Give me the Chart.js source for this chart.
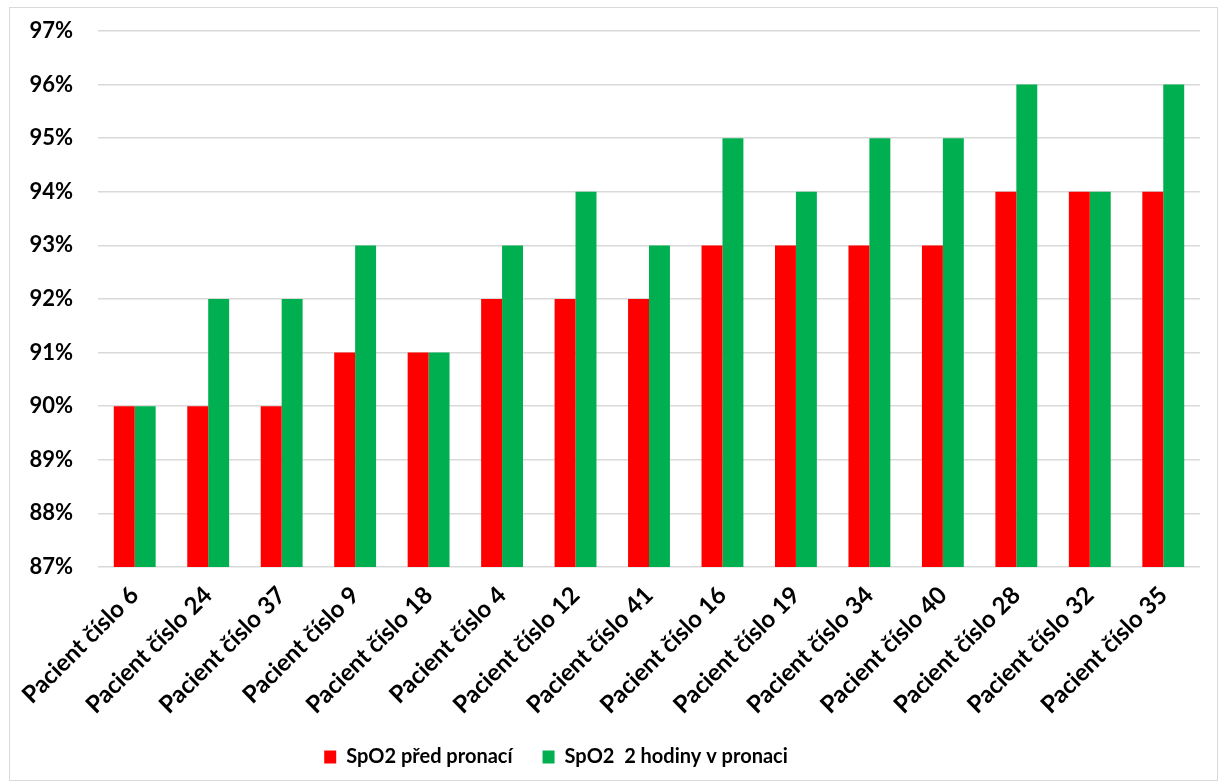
<!DOCTYPE html>
<html>
<head>
<meta charset="utf-8">
<script src="https://cdn.jsdelivr.net/npm/chart.js@4"></script>
<style>
  html, body { margin: 0; padding: 0; background: #fff; }
  body { width: 1224px; height: 782px; position: relative; overflow: hidden; }
  #frame {
    position: absolute; left: 9px; top: 7px; width: 1209px; height: 774px;
    border: 1px solid #d9d9d9; box-sizing: border-box; background: #fff;
  }
  #frame canvas { display: block; }
</style>
</head>
<body>
<div id="frame"><canvas id="c" width="1207" height="772"></canvas></div>
<script>
// Patients, in the order they are plotted
const patients = [
  'Pacient číslo 6', 'Pacient číslo 24', 'Pacient číslo 37', 'Pacient číslo 9',
  'Pacient číslo 18', 'Pacient číslo 4', 'Pacient číslo 12', 'Pacient číslo 41',
  'Pacient číslo 16', 'Pacient číslo 19', 'Pacient číslo 34', 'Pacient číslo 40',
  'Pacient číslo 28', 'Pacient číslo 32', 'Pacient číslo 35'
];

// SpO2 (%) before proning
const spo2Before = [90, 90, 90, 91, 91, 92, 92, 92, 93, 93, 93, 93, 94, 94, 94];
// SpO2 (%) after two hours in prone position
const spo2Prone = [90, 92, 92, 93, 91, 93, 94, 93, 95, 94, 95, 95, 96, 94, 96];

const seriesNames = ['SpO2 před pronací', 'SpO2  2 hodiny v pronaci'];

// y-axis range and step (percent)
const yMin = 87;
const yMax = 97;
const yStep = 1;

const FONT = 'Lato, "Open Sans", sans-serif';

// Nudge the bottom legend a little to the left
const legendShift = {
  id: 'legendShift',
  afterUpdate(chart) {
    const lg = chart.legend;
    if (!lg) return;
    const dx = -49;
    lg.left += dx; lg.right += dx;
    if (lg.legendHitBoxes) lg.legendHitBoxes.forEach(b => { b.left += dx; });
  }
};

new Chart(document.getElementById('c'), {
  type: 'bar',
  data: {
    labels: patients,
    datasets: [
      { label: seriesNames[0], data: spo2Before, backgroundColor: '#ff0000', borderWidth: 0 },
      { label: seriesNames[1], data: spo2Prone, backgroundColor: '#00b050', borderWidth: 0 }
    ]
  },
  options: {
    responsive: false,
    animation: false,
    events: [],
    layout: { padding: { top: 0, right: 17, bottom: 3, left: 0 } },
    datasets: { bar: { categoryPercentage: 0.57, barPercentage: 1.0 } },
    plugins: {
      tooltip: { enabled: false },
      legend: {
        position: 'bottom',
        labels: {
          boxWidth: 12, boxHeight: 13, padding: 30,
          color: '#000',
          font: { family: FONT, size: 20, weight: 'bold' }
        }
      }
    },
    scales: {
      x: {
        grid: { display: false },
        border: { display: false },
        ticks: {
          autoSkip: false, maxRotation: 45, minRotation: 45, padding: 6,
          color: '#000',
          font: { family: FONT, size: 24, weight: 'bold' }
        },
        afterFit(scale) { scale.height = 150; }
      },
      y: {
        min: yMin, max: yMax,
        grid: { color: '#d9d9d9', lineWidth: 1.5, drawTicks: false },
        border: { display: false },
        ticks: {
          stepSize: yStep, padding: 25,
          color: '#000',
          font: { family: FONT, size: 22, weight: 'bold' },
          callback: v => v + '%'
        },
        afterFit(scale) {
          scale.width = 88;
          scale.paddingTop = 23;
          scale.paddingBottom = 0;
        }
      }
    }
  },
  plugins: [legendShift]
});
</script>
</body>
</html>
